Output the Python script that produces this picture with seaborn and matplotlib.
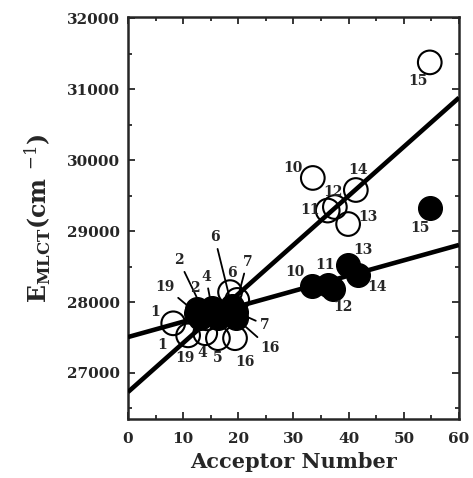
import numpy as np
import pandas as pd
import matplotlib.pyplot as plt
import seaborn as sns

# open circles
open_ids = ['1', '19', '2', '4', '5', '16', '6', '7', '10', '11', '12', '13', '14', '15']
open_an = [8.2, 10.9, 14.3, 14.0, 16.3, 19.4, 18.5, 19.8, 33.5, 36.2, 37.5, 39.9, 41.3, 54.7]
open_e = [27700, 27530, 27770, 27560, 27490, 27490, 28140, 28030, 29750, 29290, 29340, 29100, 29580, 31380]

# filled circles
filled_ids = ['1', '19', '2', '4', '5', '6', '7', '16', '10', '11', '12', '13', '14', '15']
filled_an = [13.0, 12.3, 12.5, 15.2, 16.3, 18.8, 19.6, 19.6, 33.3, 36.2, 37.1, 39.9, 41.7, 54.7]
filled_e = [27770, 27850, 27900, 27920, 27770, 27940, 27860, 27770, 28230, 28240, 28180, 28520, 28380, 29330]

# fitted lines: intercept, slope
open_fit = [26730, 69.2]
filled_fit = [27506, 21.65]

# label offsets in pixels (dx, dy downward, leader line)
open_lab = {'1': (-18, -11, False), '19': (-3, 23, False), '2': (-28, -58, True),
            '4': (-3, 20, False), '5': (0, 20, False), '16': (10, 24, False),
            '6': (2, -19, False), '7': (10, -38, True), '10': (-20, -10, False),
            '11': (-18, -1, False), '12': (-2, -15, False), '13': (20, -7, False),
            '14': (2, -20, False), '15': (-12, 19, False)}
filled_lab = {'1': (-38, 27, False), '19': (-31, -26, True), '2': (-2, -21, False),
              '4': (-6, -31, True), '6': (-17, -69, True), '7': (29, 13, True),
              '16': (34, 30, True), '10': (-17, -14, False), '11': (-3, -20, False),
              '12': (10, 18, False), '13': (15, -15, False), '14': (19, 12, False),
              '15': (-10, 20, False)}

sns.set_style('ticks')
plt.rcParams['font.family'] = ['DejaVu Serif']
plt.rcParams['mathtext.fontset'] = 'dejavuserif'

open_df = pd.DataFrame({'id': open_ids, 'an': open_an, 'e': open_e})
filled_df = pd.DataFrame({'id': filled_ids, 'an': filled_an, 'e': filled_e})

fig = plt.figure(figsize=(4.73, 4.78), dpi=100)
ax = fig.add_axes([0.2706, 0.1234, 0.6998, 0.8410])

sns.scatterplot(data=filled_df, x='an', y='e', s=290, color='black', edgecolor='black',
                linewidth=1, ax=ax, zorder=2)
sns.scatterplot(data=open_df, x='an', y='e', s=290, facecolor='none', edgecolor='black',
                linewidth=1.5, ax=ax, zorder=3)

xx = np.array([0, 60])
for b, m in [open_fit, filled_fit]:
    ax.plot(xx, b + m * xx, color='black', lw=3.3, zorder=4, solid_capstyle='butt')

for df, labs in [(open_df, open_lab), (filled_df, filled_lab)]:
    for _, r in df.iterrows():
        if r['id'] not in labs:
            continue
        dx, dy, lead = labs[r['id']]
        arrow = dict(arrowstyle='-', color='black', lw=1.3, shrinkA=1, shrinkB=7) if lead else None
        ax.annotate(r['id'], (r['an'], r['e']), xytext=(dx, -dy), textcoords='offset pixels',
                    ha='center', va='center', fontsize=10, fontweight='semibold',
                    arrowprops=arrow, zorder=5)

ax.set_xlim(0, 60)
ax.set_ylim(26350, 32020)
ax.set_xticks(range(0, 61, 10))
ax.set_xticks(range(0, 61, 5), minor=True)
ax.set_yticks(range(27000, 32001, 1000))
ax.set_yticks(range(26500, 32001, 500), minor=True)
ax.tick_params(which='both', direction='in', top=True, right=True, width=1.3, labelsize=11)
ax.tick_params(which='major', length=5)
ax.tick_params(which='minor', length=3)
ax.tick_params(axis='x', which='major', pad=9)
ax.tick_params(axis='y', which='major', pad=6)
for lab in ax.get_xticklabels() + ax.get_yticklabels():
    lab.set_fontweight('bold')
for s in ax.spines.values():
    s.set_linewidth(1.8)

ax.set_xlabel('Acceptor Number', fontsize=15, fontweight='bold', labelpad=5)
ax.set_ylabel(r'E$_{\mathbf{MLCT}}$(cm $^{-1}$)', fontsize=17, fontweight='bold', labelpad=10)

fig.savefig('out.png', dpi=100)
